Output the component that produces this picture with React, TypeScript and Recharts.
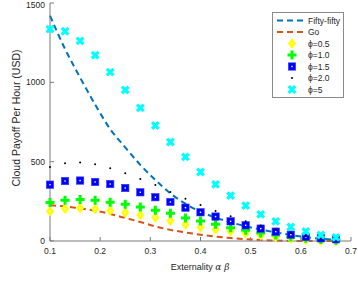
import React from "react";
import {
  ComposedChart,
  Line,
  Scatter,
  XAxis,
  YAxis,
} from "recharts";

const xs = [0.1, 0.13, 0.16, 0.19, 0.22, 0.25, 0.28, 0.31, 0.34, 0.37, 0.4, 0.43, 0.46, 0.49, 0.52, 0.55, 0.58, 0.61, 0.64, 0.67];

const fiftyFifty = [1420, 1210, 1030, 860, 705, 590, 480, 385, 300, 235, 185, 148, 118, 93, 72, 55, 38, 24, 14, 8];
const go = [225, 218, 205, 192, 170, 145, 120, 92, 70, 54, 40, 28, 19, 12, 6, 3, 1, 0, 0, 0];
const phi05 = [187, 204, 208, 202, 192, 179, 164, 148, 128, 104, 87, 74, 62, 49, 36, 25, 15, 6, 2, 0];
const phi10 = [242, 257, 261, 257, 244, 231, 214, 194, 175, 145, 126, 105, 84, 67, 50, 38, 25, 17, 10, 5];
const phi15 = [355, 378, 381, 372, 359, 334, 307, 276, 246, 210, 181, 154, 124, 99, 78, 59, 40, 25, 17, 11];
const phi20 = [467, 490, 494, 484, 458, 427, 391, 353, 309, 267, 227, 189, 156, 124, 97, 72, 50, 32, 18, 8];
const phi5 = [1335, 1322, 1261, 1171, 1064, 952, 839, 728, 624, 530, 435, 357, 286, 223, 168, 124, 88, 61, 38, 23];

const xTicks = [0.1, 0.2, 0.3, 0.4, 0.5, 0.6, 0.7];
const yTicks = [0, 500, 1000, 1500];

const data = xs.map((x, i) => ({
  x,
  fifty: fiftyFifty[i],
  go: go[i],
  p05: phi05[i],
  p10: phi10[i],
  p15: phi15[i],
  p20: phi20[i],
  p5: phi5[i],
}));

const FONT = "'Liberation Sans', Arial, Helvetica, sans-serif";
const AXIS = "#7a7a7a";
const TEXT = "#262626";

const Diamond = ({ cx, cy }: any) => (
  <g>
    <path d={`M${cx},${cy - 5.5} L${cx + 4},${cy} L${cx},${cy + 5.5} L${cx - 4},${cy} Z`} fill="#ffff00" />
    <rect x={cx - 0.7} y={cy - 0.7} width={1.4} height={1.4} fill="#fff" />
  </g>
);

const Plus = ({ cx, cy }: any) => (
  <path d={`M${cx - 4.5},${cy} L${cx + 4.5},${cy} M${cx},${cy - 4.5} L${cx},${cy + 4.5}`} stroke="#00ff00" strokeWidth={3} />
);

const Square = ({ cx, cy }: any) => (
  <g>
    <rect x={cx - 3.7} y={cy - 3.7} width={7.4} height={7.4} fill="#0000ff" stroke="#3b3bff" strokeWidth={0.6} />
    <rect x={cx - 0.7} y={cy - 0.7} width={1.4} height={1.4} fill="#fff" />
  </g>
);

const Dot = ({ cx, cy }: any) => <circle cx={cx} cy={cy} r={1} fill="#000" />;

const Cross = ({ cx, cy }: any) => (
  <path d={`M${cx - 3.3},${cy - 3.3} L${cx + 3.3},${cy + 3.3} M${cx + 3.3},${cy - 3.3} L${cx - 3.3},${cy + 3.3}`} stroke="#00ffff" strokeWidth={3.2} />
);

const legendRows = [
  { label: "Fifty-fifty", kind: "line", color: "#0072bd" },
  { label: "Go", kind: "line", color: "#d95319" },
  { label: "\u03d5=0.5", kind: "mark", Shape: Diamond },
  { label: "\u03d5=1.0", kind: "mark", Shape: Plus },
  { label: "\u03d5=1.5", kind: "mark", Shape: Square },
  { label: "\u03d5=2.0", kind: "mark", Shape: Dot },
  { label: "\u03d5=5", kind: "mark", Shape: Cross },
];

// legend box and axis titles are drawn on top of the chart
const Overlay = () => (
  <svg width={358} height={289} style={{ position: "absolute", left: 0, top: 0, pointerEvents: "none" }}>
    <g transform="translate(272,12)">
      <rect x={0.5} y={0.5} width={71} height={85} fill="#fff" stroke="#8a8a8a" strokeWidth={1} />
      {legendRows.map((r: any, i) => {
        const y = 8.5 + i * 11.5;
        return (
          <g key={r.label}>
            {r.kind === "line" ? (
              <line x1={5} x2={33} y1={y} y2={y} stroke={r.color} strokeWidth={2} strokeDasharray="6 4" />
            ) : (
              <r.Shape cx={20} cy={y} />
            )}
            <text x={36} y={y + 3} fontSize={8.5} fontFamily={FONT} fill={TEXT}>
              {r.label}
            </text>
          </g>
        );
      })}
    </g>
    <text x={200} y={270} textAnchor="middle" fontSize={9} fontFamily={FONT} fill={TEXT}>
      Externality{" "}
      <tspan fontFamily="'DejaVu Serif', serif" fontStyle="italic">
        {"\u03b1 \u03b2"}
      </tspan>
    </text>
    <text
      x={0}
      y={0}
      transform="translate(20 118) rotate(-90)"
      textAnchor="middle"
      fontSize={10.5}
      fontFamily={FONT}
      fill={TEXT}
    >
      Cloud Payoff Per Hour (USD)
    </text>
  </svg>
);

const App = () => {
  return (
    <div style={{ position: "absolute", left: 0, top: 0, width: 358, height: 289, background: "#fff" }}>
      <ComposedChart width={358} height={289} data={data} margin={{ top: 3, right: 7, bottom: 0, left: 0 }}>
        <XAxis
          dataKey="x"
          type="number"
          domain={[0.1, 0.7]}
          ticks={xTicks}
          tickSize={-4}
          tickMargin={11}
          height={48}
          stroke={AXIS}
          tick={{ fontSize: 8.5, fontFamily: FONT, fill: TEXT }}
          tickFormatter={(v: number) => String(Math.round(v * 10) / 10)}
        />
        <XAxis
          xAxisId="top"
          orientation="top"
          dataKey="x"
          type="number"
          domain={[0.1, 0.7]}
          ticks={xTicks}
          tickSize={-4}
          height={0}
          stroke={AXIS}
          tickFormatter={() => ""}
        />
        <YAxis
          type="number"
          domain={[0, 1500]}
          ticks={yTicks}
          tickSize={-4}
          tickMargin={9}
          width={50}
          stroke={AXIS}
          tick={{ fontSize: 8.5, fontFamily: FONT, fill: TEXT }}
        />
        <YAxis
          yAxisId="right"
          orientation="right"
          type="number"
          domain={[0, 1500]}
          ticks={yTicks}
          tickSize={-4}
          width={0}
          stroke={AXIS}
          tickFormatter={() => ""}
        />
        <Line dataKey="fifty" type="monotone" stroke="#0072bd" strokeWidth={2} strokeDasharray="6 4" dot={false} isAnimationActive={false} />
        <Line dataKey="go" type="monotone" stroke="#d95319" strokeWidth={2} strokeDasharray="6 4" dot={false} isAnimationActive={false} />
        <Scatter dataKey="p05" shape={Diamond} isAnimationActive={false} />
        <Scatter dataKey="p10" shape={Plus} isAnimationActive={false} />
        <Scatter dataKey="p15" shape={Square} isAnimationActive={false} />
        <Scatter dataKey="p20" shape={Dot} isAnimationActive={false} />
        <Scatter dataKey="p5" shape={Cross} isAnimationActive={false} />
      </ComposedChart>
      <Overlay />
    </div>
  );
};

export default App;
